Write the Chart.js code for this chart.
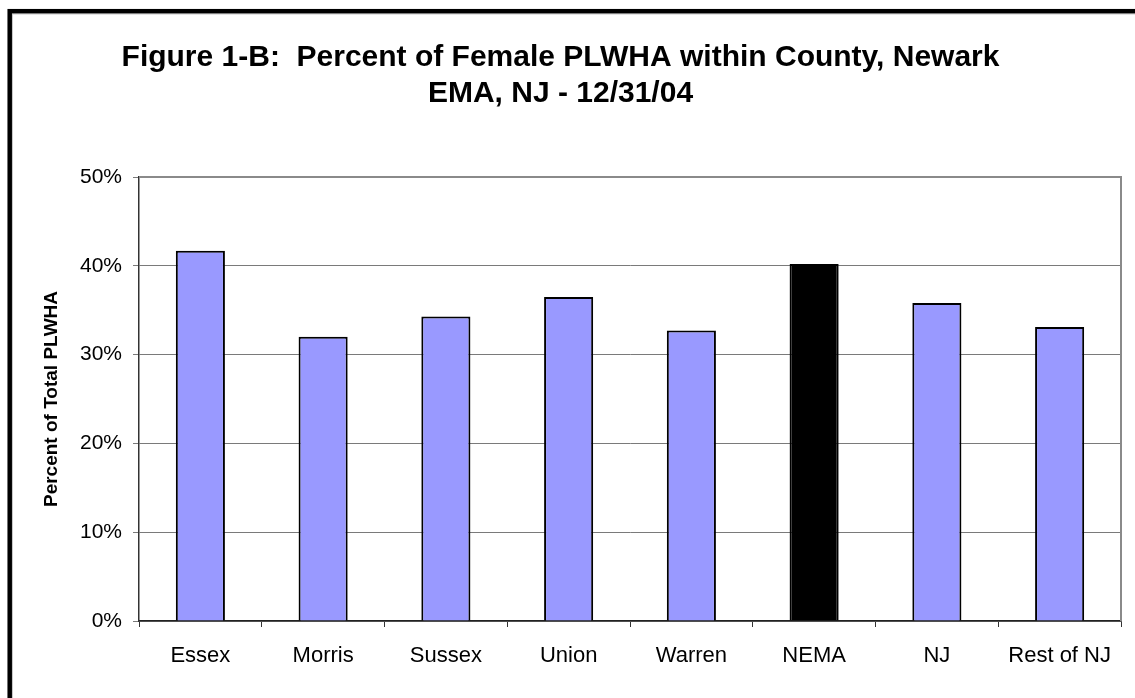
<!DOCTYPE html>
<html>
<head>
<meta charset="utf-8">
<script src="https://cdn.jsdelivr.net/npm/chart.js@4/dist/chart.umd.min.js"></script>
<style>
  html, body { margin: 0; padding: 0; background: #fff; }
  #wrap { width: 1135px; height: 698px; }
</style>
</head>
<body>
<div id="wrap"><canvas id="chart" width="1135" height="698"></canvas></div>
<script>
// data
const categories = ['Essex', 'Morris', 'Sussex', 'Union', 'Warren', 'NEMA', 'NJ', 'Rest of NJ'];
const femalePct = [41.7, 32.0, 34.3, 36.5, 32.7, 40.2, 35.8, 33.1];
const barColors = ['#9999FF', '#9999FF', '#9999FF', '#9999FF', '#9999FF', '#000000', '#9999FF', '#9999FF'];
const yTicks = [0, 10, 20, 30, 40, 50];

const FONT = "'Liberation Sans', Arial, sans-serif";

// outer frame + plot area border (top / right in grey)
const framePlugin = {
  id: 'frame',
  beforeDraw(chart) {
    const ctx = chart.ctx;
    ctx.save();
    ctx.fillStyle = '#fff';
    ctx.fillRect(0, 0, chart.width, chart.height);
    ctx.strokeStyle = '#c8c8c8';
    ctx.lineWidth = 1;
    ctx.strokeRect(12.5, 14, 1400, 900);
    ctx.strokeStyle = '#000';
    ctx.lineWidth = 4.5;
    ctx.strokeRect(9.7, 11.2, 1400, 900);
    ctx.restore();
  },
  afterDatasetsDraw(chart) {
    const { ctx, chartArea: a } = chart;
    ctx.save();
    ctx.strokeStyle = '#8a8a8a';
    ctx.lineWidth = 2;
    ctx.beginPath();
    ctx.moveTo(a.left, a.top);
    ctx.lineTo(a.right, a.top);
    ctx.lineTo(a.right, a.bottom);
    ctx.stroke();
    ctx.restore();
  }
};

new Chart(document.getElementById('chart'), {
  type: 'bar',
  data: {
    labels: categories,
    datasets: [{
      data: femalePct,
      backgroundColor: barColors,
      borderColor: '#000',
      borderWidth: 2,
      barPercentage: 0.4,
      categoryPercentage: 1.0
    }]
  },
  options: {
    responsive: false,
    animation: false,
    layout: { padding: { left: 0, right: 14, top: 0, bottom: 0 } },
    plugins: {
      legend: { display: false },
      tooltip: { enabled: false },
      title: {
        display: true,
        text: ['Figure 1-B:  Percent of Female PLWHA within County, Newark', 'EMA, NJ - 12/31/04'],
        color: '#000',
        font: { family: FONT, size: 30, weight: 'bold', lineHeight: 1.2 },
        padding: { top: 40, bottom: 65 }
      }
    },
    scales: {
      x: {
        grid: {
          offset: true,
          drawOnChartArea: false,
          drawTicks: true,
          tickLength: 6,
          color: '#333'
        },
        border: { color: '#222', width: 1.5 },
        ticks: {
          color: '#000',
          padding: 16,
          maxRotation: 0,
          autoSkip: false,
          font: { family: FONT, size: 22 }
        },
        afterFit(scale) { scale.height = 77; }
      },
      y: {
        min: 0,
        max: 50,
        afterBuildTicks(scale) { scale.ticks = yTicks.map(v => ({ value: v })); },
        grid: {
          color: '#7a7a7a',
          lineWidth: 1,
          tickLength: 6,
          drawTicks: true
        },
        border: { color: '#333', width: 1.5 },
        ticks: {
          color: '#000',
          padding: 11,
          font: { family: FONT, size: 21 },
          callback: v => v + '%'
        },
        title: {
          display: true,
          text: 'Percent of Total PLWHA',
          color: '#000',
          font: { family: FONT, size: 19, weight: 'bold' },
          padding: { top: 40, bottom: 0 }
        },
        afterFit(scale) { scale.width = 139; }
      }
    }
  },
  plugins: [framePlugin]
});
</script>
</body>
</html>
